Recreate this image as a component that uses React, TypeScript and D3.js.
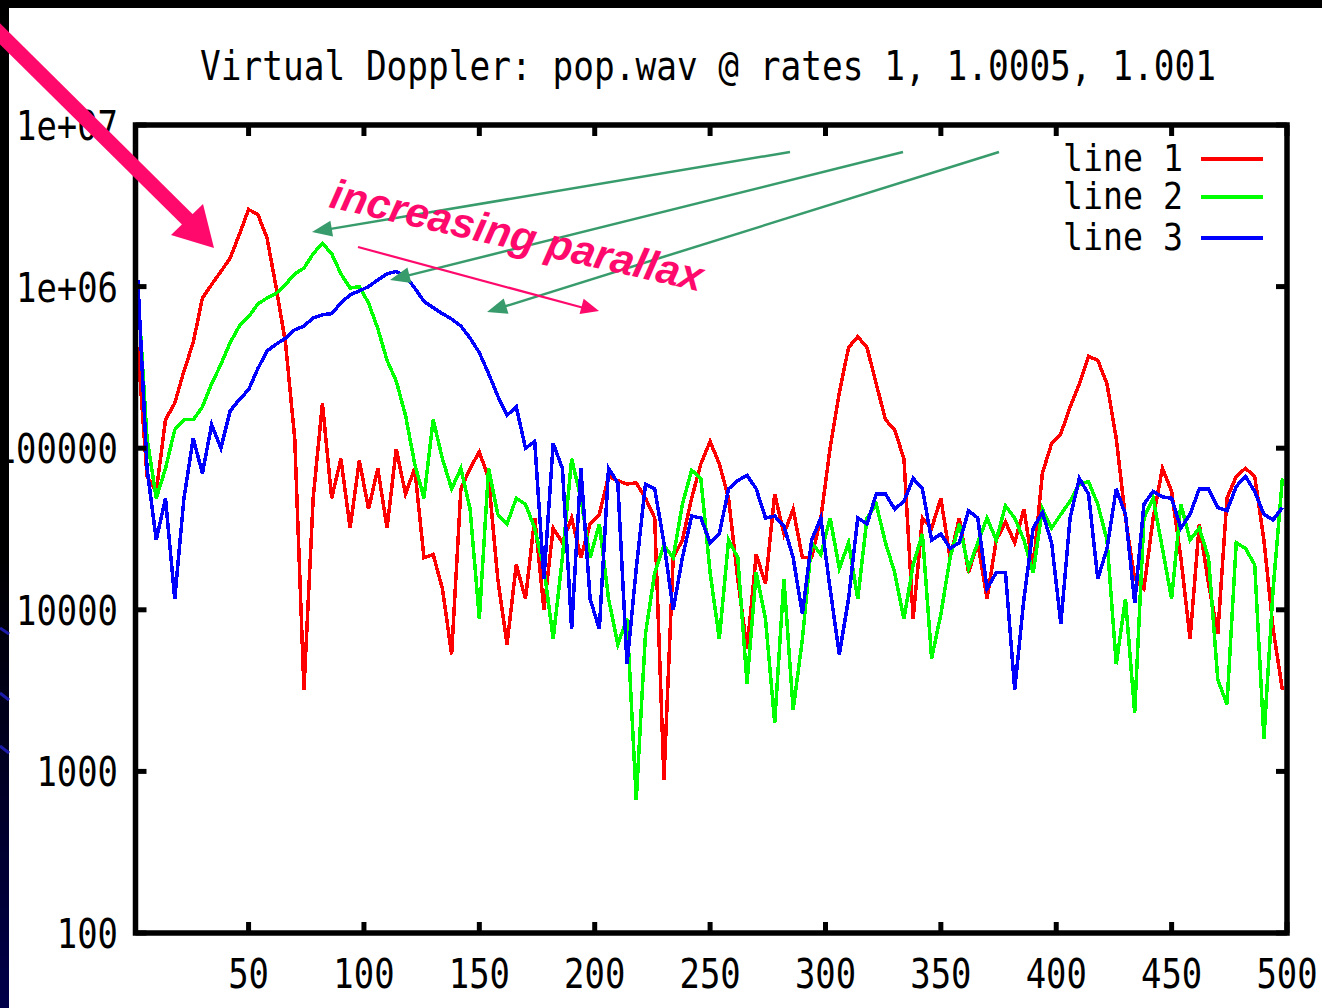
import React from 'react';
import * as d3 from 'd3';

// sample positions (every 4th sample of the 500)
const samples = [
  2, 6, 10, 14, 18, 22, 26, 30, 34, 38, 42, 46, 50, 54, 58, 62, 66, 70, 74, 78,
  82, 86, 90, 94, 98, 102, 106, 110, 114, 118, 122, 126, 130, 134, 138, 142, 146, 150, 154, 158,
  162, 166, 170, 174, 178, 182, 186, 190, 194, 198, 202, 206, 210, 214, 218, 222, 226, 230, 234, 238,
  242, 246, 250, 254, 258, 262, 266, 270, 274, 278, 282, 286, 290, 294, 298, 302, 306, 310, 314, 318,
  322, 326, 330, 334, 338, 342, 346, 350, 354, 358, 362, 366, 370, 374, 378, 382, 386, 390, 394, 398,
  402, 406, 410, 414, 418, 422, 426, 430, 434, 438, 442, 446, 450, 454, 458, 462, 466, 470, 474, 478,
  482, 486, 490, 494, 498,
];

// rate 1
const line1 = [
  4.2e5, 6.7e4, 5.4e4, 1.5e5, 1.9e5, 3.0e5, 4.5e5, 8.5e5, 1.03e6, 1.24e6,
  1.5e6, 2.1e6, 3.0e6, 2.8e6, 2.0e6, 9.8e5, 4.5e5, 1.15e5, 3.2e3, 4.9e4,
  1.9e5, 4.9e4, 8.6e4, 3.2e4, 8.4e4, 4.2e4, 7.5e4, 3.2e4, 9.9e4, 5.2e4,
  7.5e4, 2.1e4, 2.2e4, 1.35e4, 5.3e3, 5.6e4, 7.5e4, 9.5e4, 6.5e4, 1.55e4,
  6.1e3, 1.9e4, 1.17e4, 3.7e4, 1.0e4, 3.2e4, 2.6e4, 3.7e4, 2.1e4, 3.4e4,
  3.9e4, 6.7e4, 6.3e4, 6.0e4, 6.1e4, 4.9e4, 3.7e4, 890, 2.1e4, 2.7e4,
  4.9e4, 8.0e4, 1.1e5, 8.0e4, 4.9e4, 1.55e4, 5.7e3, 2.2e4, 1.45e4, 5.2e4,
  2.95e4, 4.2e4, 2.1e4, 2.1e4, 3.7e4, 1.0e5, 2.2e5, 4.2e5, 4.9e5, 4.2e5,
  2.5e5, 1.5e5, 1.3e5, 8.6e4, 8.8e3, 3.7e4, 3.2e4, 4.9e4, 2.1e4, 3.7e4,
  1.7e4, 2.6e4, 1.17e4, 2.7e4, 3.5e4, 2.6e4, 4.2e4, 1.8e4, 7.0e4, 1.07e5,
  1.23e5, 1.8e5, 2.5e5, 3.7e5, 3.5e5, 2.5e5, 1.15e5, 3.7e4, 1.55e4, 1.35e4,
  3.7e4, 7.5e4, 5.4e4, 2.1e4, 6.6e3, 3.4e4, 1.45e4, 7.1e3, 4.9e4, 6.7e4,
  7.5e4, 6.7e4, 2.7e4, 7.6e3, 3.2e3,
];

// rate 1.0005
const line2 = [
  9.8e5, 1.15e5, 4.9e4, 7.5e4, 1.3e5, 1.5e5, 1.5e5, 1.8e5, 2.5e5, 3.3e5,
  4.5e5, 5.7e5, 6.5e5, 7.8e5, 8.5e5, 9.1e5, 1.03e6, 1.2e6, 1.3e6, 1.6e6,
  1.85e6, 1.6e6, 1.2e6, 9.8e5, 1.0e6, 7.9e5, 5.5e5, 3.5e5, 2.6e5, 1.6e5,
  8.0e4, 4.9e4, 1.5e5, 8.6e4, 5.6e4, 7.5e4, 4.2e4, 8.8e3, 7.5e4, 3.9e4,
  3.4e4, 4.9e4, 4.5e4, 3.2e4, 1.8e4, 6.6e3, 2.1e4, 8.6e4, 4.9e4, 2.1e4,
  3.4e4, 1.17e4, 6.1e3, 8.8e3, 670, 7.1e3, 1.7e4, 2.5e4, 2.1e4, 4.5e4,
  7.3e4, 6.5e4, 1.7e4, 6.6e3, 2.7e4, 2.1e4, 3.5e3, 1.7e4, 8.8e3, 2.0e3,
  1.55e4, 2.4e3, 6.6e3, 2.6e4, 2.2e4, 3.7e4, 1.8e4, 2.6e4, 1.17e4, 3.7e4,
  4.5e4, 2.6e4, 1.7e4, 8.8e3, 1.9e4, 2.95e4, 5.0e3, 9.4e3, 2.1e4, 3.4e4,
  1.8e4, 2.6e4, 3.7e4, 2.7e4, 4.4e4, 3.7e4, 2.7e4, 1.7e4, 4.2e4, 3.2e4,
  3.9e4, 4.7e4, 6.0e4, 6.2e4, 4.5e4, 2.7e4, 4.6e3, 1.17e4, 2.3e3, 3.7e4,
  4.9e4, 2.4e4, 1.17e4, 4.5e4, 2.7e4, 3.2e4, 2.1e4, 3.7e3, 2.6e3, 2.6e4,
  2.4e4, 1.9e4, 1.6e3, 1.35e4, 6.5e4,
];

// rate 1.001
const line3 = [
  1.1e6, 7.5e4, 2.7e4, 4.9e4, 1.17e4, 4.9e4, 1.15e5, 7.0e4, 1.4e5, 1.0e5,
  1.7e5, 2.0e5, 2.3e5, 3.1e5, 4.0e5, 4.4e5, 4.8e5, 5.4e5, 5.7e5, 6.4e5,
  6.7e5, 6.8e5, 7.9e5, 8.9e5, 9.4e5, 1.0e6, 1.1e6, 1.2e6, 1.24e6, 1.16e6,
  9.8e5, 8.1e5, 7.4e5, 6.8e5, 6.3e5, 5.7e5, 4.8e5, 3.9e5, 2.9e5, 2.1e5,
  1.6e5, 1.8e5, 1.0e5, 1.1e5, 1.55e4, 1.07e5, 7.5e4, 7.6e3, 7.5e4, 1.17e4,
  7.6e3, 7.5e4, 6.1e4, 4.6e3, 1.8e4, 6.0e4, 5.6e4, 2.6e4, 1.0e4, 2.1e4,
  3.8e4, 3.7e4, 2.6e4, 2.95e4, 5.6e4, 6.3e4, 6.8e4, 5.6e4, 3.7e4, 3.8e4,
  3.3e4, 2.1e4, 9.4e3, 2.7e4, 3.7e4, 1.35e4, 5.3e3, 1.17e4, 3.7e4, 3.4e4,
  5.2e4, 5.2e4, 4.2e4, 4.7e4, 6.5e4, 5.6e4, 2.7e4, 2.95e4, 2.4e4, 2.6e4,
  4.1e4, 3.7e4, 1.35e4, 1.7e4, 1.7e4, 3.2e3, 1.17e4, 3.2e4, 4.0e4, 2.6e4,
  8.2e3, 3.7e4, 6.5e4, 5.2e4, 1.55e4, 2.4e4, 5.6e4, 3.9e4, 1.1e4, 4.5e4,
  5.4e4, 5.0e4, 4.9e4, 3.2e4, 3.9e4, 5.6e4, 5.6e4, 4.3e4, 4.1e4, 5.8e4,
  6.7e4, 5.4e4, 3.9e4, 3.6e4, 4.3e4,
];

const seriesNames = ['line 1', 'line 2', 'line 3'];
const seriesColors = ['#ff0000', '#00ff00', '#0000ff'];

const yTicks = [100, 1000, 10000, 100000, 1e6, 1e7];
const yTickLabels = ['100', '1000', '10000', '100000', '1e+06', '1e+07'];
const xTicks = [50, 100, 150, 200, 250, 300, 350, 400, 450, 500];
const xTickLabels = ['50', '100', '150', '200', '250', '300', '350', '400', '450', '500'];

const title = 'Virtual Doppler: pop.wav @ rates 1, 1.0005, 1.001';

const W = 1322;
const H = 1008;
const mono = '"DejaVu Sans Mono", "Liberation Mono", monospace';
const charW = 20.4;

// arrowhead triangle pointing at (x2, y2)
function head(x1: number, y1: number, x2: number, y2: number, len: number, half: number) {
  const a = Math.atan2(y2 - y1, x2 - x1);
  const bx = x2 - len * Math.cos(a);
  const by = y2 - len * Math.sin(a);
  const px = -Math.sin(a) * half;
  const py = Math.cos(a) * half;
  return `${x2},${y2} ${bx + px},${by + py} ${bx - px},${by - py}`;
}

function shaftEnd(x1: number, y1: number, x2: number, y2: number, len: number) {
  const a = Math.atan2(y2 - y1, x2 - x1);
  return [x2 - len * Math.cos(a), y2 - len * Math.sin(a)];
}

const App = () => {
  const left = 135.5;
  const right = 1287;
  const top = 125;
  const bottom = 933;

  const x = d3.scaleLinear().domain([1, 500]).range([left, right]);
  const y = d3.scaleLog().domain([100, 1e7]).range([bottom, top]);

  const line = d3
    .line<number>()
    .x((_, i) => x(samples[i]))
    .y((d) => y(d));

  const all = [line1, line2, line3];

  const greenArrows = [
    [790, 152, 312, 232],
    [903, 152, 390, 280],
    [999, 152, 487, 312],
  ];

  return (
    <svg width={W} height={H} style={{ position: 'absolute', left: 0, top: 0, background: '#fff' }}>
      <defs>
        <clipPath id="plot">
          <rect x={left} y={top} width={right - left} height={bottom - top} />
        </clipPath>
        <linearGradient id="strip" x1="0" y1="0" x2="0" y2="1">
          <stop offset="0" stopColor="#000" />
          <stop offset="0.55" stopColor="#000" />
          <stop offset="1" stopColor="#00004a" />
        </linearGradient>
      </defs>
      <rect x={0} y={0} width={W} height={H} fill="#fff" />

      {/* title */}
      <text x={200} y={80} fontFamily={mono} fontSize={40} textLength={1016} lengthAdjust="spacingAndGlyphs">
        {title}
      </text>

      {/* data */}
      <g clipPath="url(#plot)">
        {all.map((s, k) => (
          <path
            key={k}
            d={line(s) || ''}
            fill="none"
            stroke={seriesColors[k]}
            strokeWidth={3.5}
            strokeLinejoin="miter"
            shapeRendering="crispEdges"
          />
        ))}
      </g>

      {/* frame and ticks */}
      <rect x={left} y={top} width={right - left} height={bottom - top} fill="none" stroke="#000" strokeWidth={5.5} />
      {yTicks.map((t) => (
        <g key={t}>
          <line x1={left} x2={left + 11} y1={y(t)} y2={y(t)} stroke="#000" strokeWidth={5} />
          <line x1={right - 11} x2={right} y1={y(t)} y2={y(t)} stroke="#000" strokeWidth={5} />
        </g>
      ))}
      {xTicks.map((t) => (
        <g key={t}>
          <line x1={x(t)} x2={x(t)} y1={bottom} y2={bottom - 11} stroke="#000" strokeWidth={5} />
          <line x1={x(t)} x2={x(t)} y1={top} y2={top + 11} stroke="#000" strokeWidth={5} />
        </g>
      ))}

      {/* tick labels */}
      {yTicks.map((t, i) => (
        <text
          key={t}
          x={118}
          y={y(t) + 15}
          textAnchor="end"
          fontFamily={mono}
          fontSize={41}
          textLength={yTickLabels[i].length * charW}
          lengthAdjust="spacingAndGlyphs"
        >
          {yTickLabels[i]}
        </text>
      ))}
      {xTicks.map((t, i) => (
        <text
          key={t}
          x={x(t)}
          y={988}
          textAnchor="middle"
          fontFamily={mono}
          fontSize={41}
          textLength={xTickLabels[i].length * charW}
          lengthAdjust="spacingAndGlyphs"
        >
          {xTickLabels[i]}
        </text>
      ))}

      {/* legend */}
      {seriesNames.map((n, i) => {
        const ly = [159, 197, 238][i];
        return (
          <g key={n}>
            <text
              x={1183}
              y={ly + 12}
              textAnchor="end"
              fontFamily={mono}
              fontSize={38}
              textLength={n.length * 20}
              lengthAdjust="spacingAndGlyphs"
            >
              {n}
            </text>
            <line x1={1201} x2={1263} y1={ly} y2={ly} stroke={seriesColors[i]} strokeWidth={4} />
          </g>
        );
      })}

      {/* slide edge */}
      <rect x={0} y={0} width={W} height={8} fill="#000" />
      <rect x={0} y={0} width={9} height={H} fill="url(#strip)" />
      <line x1={0} y1={628} x2={9} y2={634} stroke="#1c1ca8" strokeWidth={3} />
      <line x1={0} y1={693} x2={9} y2={700} stroke="#1c1ca8" strokeWidth={3} />
      <line x1={0} y1={746} x2={9} y2={753} stroke="#1c1ca8" strokeWidth={3} />

      {/* annotations */}
      {greenArrows.map(([x1, y1, x2, y2], i) => {
        const [sx, sy] = shaftEnd(x1, y1, x2, y2, 16);
        return (
          <g key={i}>
            <line x1={x1} y1={y1} x2={sx} y2={sy} stroke="#379b6b" strokeWidth={2.5} />
            <polygon points={head(x1, y1, x2, y2, 20, 8)} fill="#379b6b" />
          </g>
        );
      })}
      <line x1={358} y1={247} x2={584} y2={308} stroke="#ff0a6c" strokeWidth={2.2} />
      <polygon points={head(358, 247, 599, 311, 18, 8)} fill="#ff0a6c" />
      <text
        transform="translate(328,207) rotate(12.8)"
        fontFamily='"Liberation Sans", Arial, sans-serif'
        fontWeight="bold"
        fontStyle="italic"
        fontSize={42}
        fill="#ff0a6c"
        textLength={381}
        lengthAdjust="spacingAndGlyphs"
      >
        increasing parallax
      </text>
      <line x1={-14} y1={20} x2={190} y2={222} stroke="#ff0a6c" strokeWidth={15} />
      <polygon points="214,248 171,235 203,204" fill="#ff0a6c" />
    </svg>
  );
};

export default App;
